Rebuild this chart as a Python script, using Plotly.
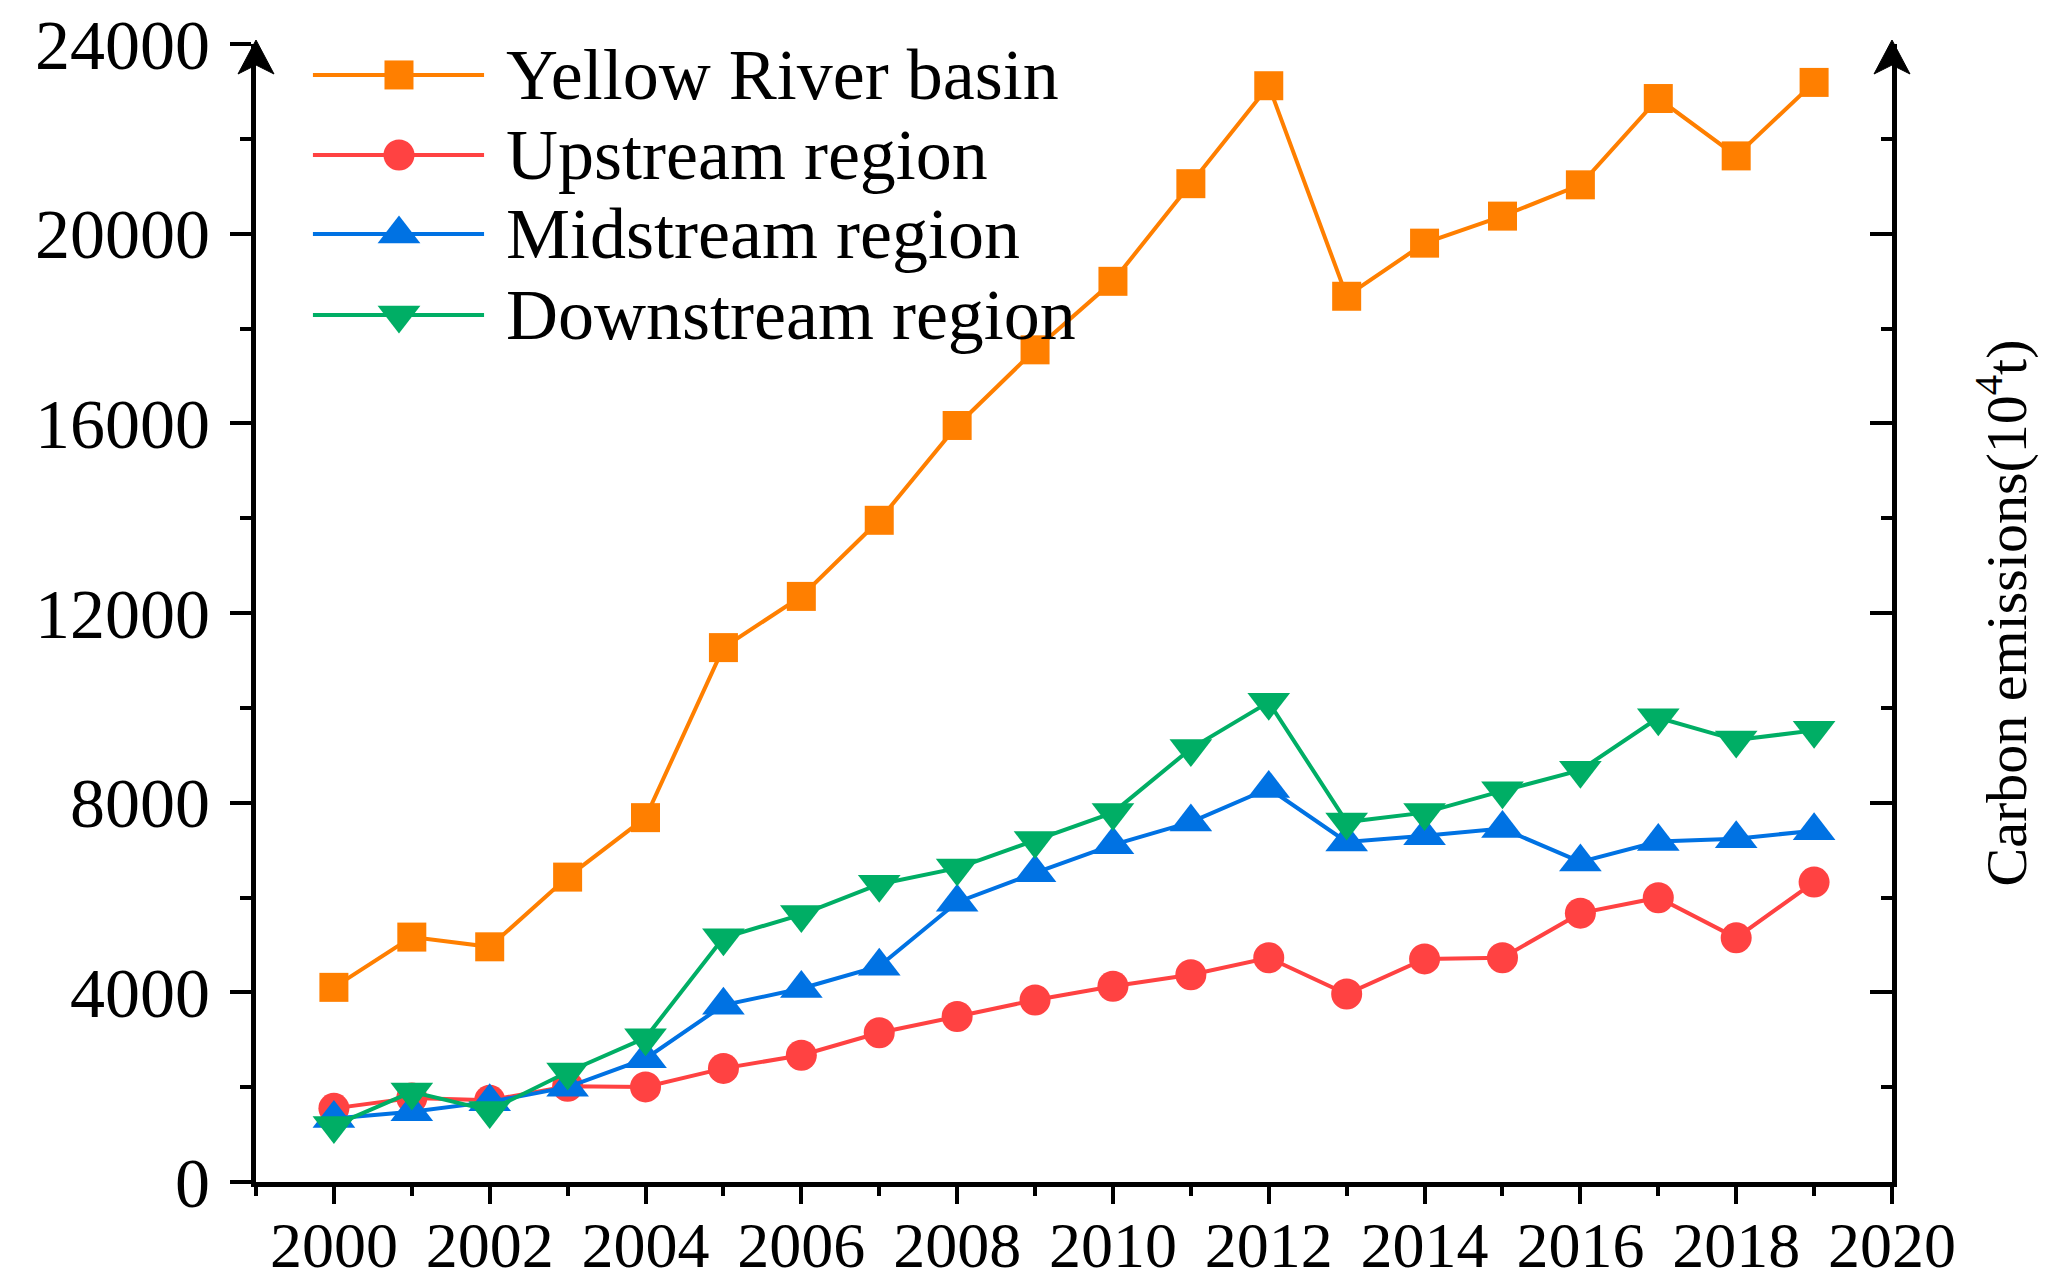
import plotly.graph_objects as go

years = list(range(2000, 2020))
yellow_river = [4105, 5165, 4960, 6430, 7684, 11270, 12350, 13955, 15955, 17550,
                18995, 21054, 23120, 18680, 19800, 20370, 21030, 22850, 21640, 23190]
upstream = [1553, 1773, 1723, 2021, 2006, 2396, 2673, 3148, 3490, 3838,
            4127, 4372, 4728, 3964, 4705, 4730, 5670, 5996, 5149, 6325]
midstream = [1340, 1480, 1690, 2000, 2600, 3730, 4080, 4550, 5900, 6520,
             7110, 7590, 8300, 7170, 7300, 7455, 6750, 7180, 7240, 7410]
downstream = [1190, 1900, 1510, 2320, 3040, 5150, 5640, 6280, 6620, 7200,
              7790, 9140, 10120, 7590, 7790, 8250, 8685, 9790, 9320, 9525]

series_names = ["Yellow River basin", "Upstream region", "Midstream region", "Downstream region"]
series_values = [yellow_river, upstream, midstream, downstream]
colors = ["#FF7F00", "#FF4242", "#0072E3", "#00AE65"]
symbols = ["square", "circle", "triangle-up", "triangle-down"]
sizes = [29, 31, 37, 37]

x_tickvals = list(range(2000, 2021, 2))
x_ticktext = [str(v) for v in x_tickvals]
y_tickvals = list(range(0, 24001, 4000))
y_ticktext = [str(v) for v in y_tickvals]

FONT = "Liberation Serif"

fig = go.Figure()
for name, vals, c, s, sz in zip(series_names, series_values, colors, symbols, sizes):
    fig.add_trace(go.Scatter(
        x=years, y=vals, name=name, mode="lines+markers",
        line=dict(color=c, width=4),
        marker=dict(symbol=s, size=sz, color=c, line=dict(width=0)),
        showlegend=False,
    ))

# invisible trace to keep right axis alive
fig.add_trace(go.Scatter(x=[years[0]], y=[yellow_river[0]], yaxis="y2", mode="markers",
                         marker=dict(opacity=0), showlegend=False, hoverinfo="skip"))

# page has an 8px body margin, so the figure is a bit smaller than the window
W, H = 2052, 1280
L, R, T, B = 248, 168, 36, 106

fig.update_layout(
    width=W, height=H,
    margin=dict(l=L, r=R, t=T, b=B, autoexpand=False),
    paper_bgcolor="white", plot_bgcolor="white",
    font=dict(family=FONT, color="black"),
    xaxis=dict(
        range=[1999, 2020], showgrid=False, zeroline=False,
        showline=True, linecolor="black", linewidth=5,
        tickmode="array", tickvals=x_tickvals, ticktext=x_ticktext,
        ticks="outside", ticklen=17, tickwidth=4, tickcolor="black",
        tickfont=dict(family=FONT, size=64, color="black"),
        ticklabelstandoff=-14, ticklabeloverflow="allow",
        minor=dict(dtick=1, tick0=1999, ticks="outside", ticklen=9, tickwidth=4, tickcolor="black"),
        automargin=False,
    ),
    yaxis=dict(
        range=[0, 24000], showgrid=False, zeroline=False,
        showline=True, linecolor="black", linewidth=5,
        tickmode="array", tickvals=y_tickvals, ticktext=y_ticktext,
        ticks="outside", ticklen=21, tickwidth=4, tickcolor="black",
        tickfont=dict(family=FONT, size=70, color="black"),
        ticklabelstandoff=6, ticklabeloverflow="allow",
        minor=dict(dtick=2000, tick0=0, ticks="outside", ticklen=11, tickwidth=4, tickcolor="black"),
        automargin=False,
    ),
    yaxis2=dict(
        range=[0, 24000], overlaying="y", side="right", anchor="x",
        showgrid=False, zeroline=False,
        showline=True, linecolor="black", linewidth=5,
        dtick=4000, tick0=0, ticks="inside", ticklen=22, tickwidth=4, tickcolor="black",
        showticklabels=False,
        minor=dict(dtick=2000, tick0=0, ticks="inside", ticklen=11, tickwidth=4, tickcolor="black"),
        title=dict(text="Carbon emissions(10<sup>4</sup>t)", font=dict(family=FONT, size=58, color="black"),
                   standoff=91),
        automargin=False,
    ),
)

shapes = []
# arrow heads at the top of both vertical axes (paper refs, not clipped)
for xa in [0, 1]:
    shapes.append(dict(
        type="path", xref="paper", yref="paper", xsizemode="pixel", ysizemode="pixel",
        xanchor=xa, yanchor=1,
        path="M0,4 L-18,-30 L0,-21 L18,-30 Z",
        fillcolor="black", line=dict(color="black", width=1),
    ))

# custom legend
leg_rows = [0.9728, 0.9025, 0.8330, 0.7619]
lx0, lx1, lmx, ltx = 0.0348, 0.1394, 0.0874, 0.1516
annotations = []
for i, (name, c, s) in enumerate(zip(series_names, colors, symbols)):
    yy = leg_rows[i]
    shapes.append(dict(type="line", xref="paper", yref="paper", x0=lx0, x1=lx1, y0=yy, y1=yy,
                       line=dict(color=c, width=4)))
    if s == "square":
        p = "M-14.5,-14.5 H14.5 V14.5 H-14.5 Z"
    elif s == "circle":
        p = None
    elif s == "triangle-up":
        p = "M-21.4,-9.25 H21.4 L0,18.5 Z"
    else:
        p = "M-21.4,9.25 H21.4 L0,-18.5 Z"
    if p is None:
        shapes.append(dict(type="circle", xref="paper", yref="paper", xsizemode="pixel", ysizemode="pixel",
                           xanchor=lmx, yanchor=yy, x0=-15.5, x1=15.5, y0=-15.5, y1=15.5,
                           fillcolor=c, line=dict(width=0)))
    else:
        shapes.append(dict(type="path", xref="paper", yref="paper", xsizemode="pixel", ysizemode="pixel",
                           xanchor=lmx, yanchor=yy, path=p, fillcolor=c, line=dict(width=0)))
    annotations.append(dict(x=ltx, y=yy, xref="paper", yref="paper", text=name, showarrow=False,
                            xanchor="left", yanchor="middle",
                            font=dict(family=FONT, size=72, color="black")))

fig.update_layout(shapes=shapes, annotations=annotations)
fig.write_html("out.html")
